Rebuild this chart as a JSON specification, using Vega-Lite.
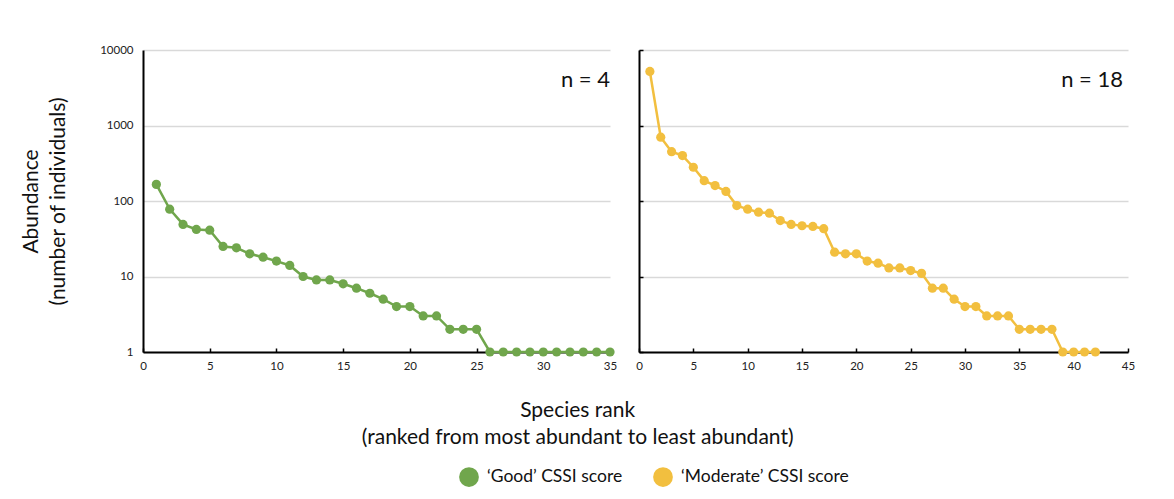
{
  "$schema": "https://vega.github.io/schema/vega-lite/v6.json",
  "padding": {"left": 20, "top": 44, "right": 5, "bottom": 5},
  "background": "white",
  "config": {
    "font": "Lato",
    "view": {"stroke": null},
    "axis": {"labelFont": "Lato", "labelFontSize": 11.5, "labelColor": "#222", "titleFont": "Lato", "titleFontWeight": "normal", "titleColor": "#111"}
  },
  "datasets": {
    "ranks": [
      {"group": "‘Good’ CSSI score", "rank": 1, "abundance": 166},
      {"group": "‘Good’ CSSI score", "rank": 2, "abundance": 78},
      {"group": "‘Good’ CSSI score", "rank": 3, "abundance": 49},
      {"group": "‘Good’ CSSI score", "rank": 4, "abundance": 42},
      {"group": "‘Good’ CSSI score", "rank": 5, "abundance": 41},
      {"group": "‘Good’ CSSI score", "rank": 6, "abundance": 25},
      {"group": "‘Good’ CSSI score", "rank": 7, "abundance": 24},
      {"group": "‘Good’ CSSI score", "rank": 8, "abundance": 20},
      {"group": "‘Good’ CSSI score", "rank": 9, "abundance": 18},
      {"group": "‘Good’ CSSI score", "rank": 10, "abundance": 16},
      {"group": "‘Good’ CSSI score", "rank": 11, "abundance": 14},
      {"group": "‘Good’ CSSI score", "rank": 12, "abundance": 10},
      {"group": "‘Good’ CSSI score", "rank": 13, "abundance": 9},
      {"group": "‘Good’ CSSI score", "rank": 14, "abundance": 9},
      {"group": "‘Good’ CSSI score", "rank": 15, "abundance": 8},
      {"group": "‘Good’ CSSI score", "rank": 16, "abundance": 7},
      {"group": "‘Good’ CSSI score", "rank": 17, "abundance": 6},
      {"group": "‘Good’ CSSI score", "rank": 18, "abundance": 5},
      {"group": "‘Good’ CSSI score", "rank": 19, "abundance": 4},
      {"group": "‘Good’ CSSI score", "rank": 20, "abundance": 4},
      {"group": "‘Good’ CSSI score", "rank": 21, "abundance": 3},
      {"group": "‘Good’ CSSI score", "rank": 22, "abundance": 3},
      {"group": "‘Good’ CSSI score", "rank": 23, "abundance": 2},
      {"group": "‘Good’ CSSI score", "rank": 24, "abundance": 2},
      {"group": "‘Good’ CSSI score", "rank": 25, "abundance": 2},
      {"group": "‘Good’ CSSI score", "rank": 26, "abundance": 1},
      {"group": "‘Good’ CSSI score", "rank": 27, "abundance": 1},
      {"group": "‘Good’ CSSI score", "rank": 28, "abundance": 1},
      {"group": "‘Good’ CSSI score", "rank": 29, "abundance": 1},
      {"group": "‘Good’ CSSI score", "rank": 30, "abundance": 1},
      {"group": "‘Good’ CSSI score", "rank": 31, "abundance": 1},
      {"group": "‘Good’ CSSI score", "rank": 32, "abundance": 1},
      {"group": "‘Good’ CSSI score", "rank": 33, "abundance": 1},
      {"group": "‘Good’ CSSI score", "rank": 34, "abundance": 1},
      {"group": "‘Good’ CSSI score", "rank": 35, "abundance": 1},
      {"group": "‘Moderate’ CSSI score", "rank": 1, "abundance": 5200},
      {"group": "‘Moderate’ CSSI score", "rank": 2, "abundance": 700},
      {"group": "‘Moderate’ CSSI score", "rank": 3, "abundance": 450},
      {"group": "‘Moderate’ CSSI score", "rank": 4, "abundance": 400},
      {"group": "‘Moderate’ CSSI score", "rank": 5, "abundance": 280},
      {"group": "‘Moderate’ CSSI score", "rank": 6, "abundance": 186},
      {"group": "‘Moderate’ CSSI score", "rank": 7, "abundance": 160},
      {"group": "‘Moderate’ CSSI score", "rank": 8, "abundance": 134},
      {"group": "‘Moderate’ CSSI score", "rank": 9, "abundance": 87},
      {"group": "‘Moderate’ CSSI score", "rank": 10, "abundance": 78},
      {"group": "‘Moderate’ CSSI score", "rank": 11, "abundance": 71},
      {"group": "‘Moderate’ CSSI score", "rank": 12, "abundance": 69},
      {"group": "‘Moderate’ CSSI score", "rank": 13, "abundance": 55},
      {"group": "‘Moderate’ CSSI score", "rank": 14, "abundance": 49},
      {"group": "‘Moderate’ CSSI score", "rank": 15, "abundance": 47},
      {"group": "‘Moderate’ CSSI score", "rank": 16, "abundance": 46},
      {"group": "‘Moderate’ CSSI score", "rank": 17, "abundance": 43},
      {"group": "‘Moderate’ CSSI score", "rank": 18, "abundance": 21},
      {"group": "‘Moderate’ CSSI score", "rank": 19, "abundance": 20},
      {"group": "‘Moderate’ CSSI score", "rank": 20, "abundance": 20},
      {"group": "‘Moderate’ CSSI score", "rank": 21, "abundance": 16},
      {"group": "‘Moderate’ CSSI score", "rank": 22, "abundance": 15},
      {"group": "‘Moderate’ CSSI score", "rank": 23, "abundance": 13},
      {"group": "‘Moderate’ CSSI score", "rank": 24, "abundance": 13},
      {"group": "‘Moderate’ CSSI score", "rank": 25, "abundance": 12},
      {"group": "‘Moderate’ CSSI score", "rank": 26, "abundance": 11},
      {"group": "‘Moderate’ CSSI score", "rank": 27, "abundance": 7},
      {"group": "‘Moderate’ CSSI score", "rank": 28, "abundance": 7},
      {"group": "‘Moderate’ CSSI score", "rank": 29, "abundance": 5},
      {"group": "‘Moderate’ CSSI score", "rank": 30, "abundance": 4},
      {"group": "‘Moderate’ CSSI score", "rank": 31, "abundance": 4},
      {"group": "‘Moderate’ CSSI score", "rank": 32, "abundance": 3},
      {"group": "‘Moderate’ CSSI score", "rank": 33, "abundance": 3},
      {"group": "‘Moderate’ CSSI score", "rank": 34, "abundance": 3},
      {"group": "‘Moderate’ CSSI score", "rank": 35, "abundance": 2},
      {"group": "‘Moderate’ CSSI score", "rank": 36, "abundance": 2},
      {"group": "‘Moderate’ CSSI score", "rank": 37, "abundance": 2},
      {"group": "‘Moderate’ CSSI score", "rank": 38, "abundance": 2},
      {"group": "‘Moderate’ CSSI score", "rank": 39, "abundance": 1},
      {"group": "‘Moderate’ CSSI score", "rank": 40, "abundance": 1},
      {"group": "‘Moderate’ CSSI score", "rank": 41, "abundance": 1},
      {"group": "‘Moderate’ CSSI score", "rank": 42, "abundance": 1}
    ]
  },
  "vconcat": [
    {
      "title": {
        "text": ["Species rank", "(ranked from most abundant to least abundant)"],
        "orient": "bottom",
        "anchor": "middle",
        "font": "Lato",
        "fontSize": 21,
        "fontWeight": "normal",
        "color": "#111",
        "lineHeight": 27,
        "offset": 28
      },
      "spacing": 18,
      "hconcat": [
        {
          "width": 467,
          "height": 302,
          "layer": [
            {
              "data": {"name": "ranks"},
              "transform": [{"filter": "datum.group == '‘Good’ CSSI score'"}],
              "mark": {"type": "line", "strokeWidth": 2.5},
              "encoding": {
                "x": {"field": "rank", "type": "quantitative", "scale": {"domain": [0, 35], "nice": false, "zero": true},
                  "axis": {"title": null, "values": [0, 5, 10, 15, 20, 25, 30, 35], "grid": false, "domainColor": "#000", "domainWidth": 2, "tickColor": "#000", "tickSize": -4, "tickWidth": 1.5, "labelPadding": 12, "labelFlush": false}},
                "y": {"field": "abundance", "type": "quantitative", "scale": {"type": "log", "domain": [1, 10000], "nice": false},
                  "axis": {"title": ["Abundance", "(number of individuals)"], "titleFontSize": 21, "titleLineHeight": 27, "titlePadding": 31, "values": [1, 10, 100, 1000, 10000], "format": "d", "grid": true, "gridColor": "#D9D9D9", "gridWidth": 1.5, "domainColor": "#000", "domainWidth": 2, "ticks": false, "labelPadding": 10}},
                "color": {"field": "group", "type": "nominal",
                  "scale": {"domain": ["‘Good’ CSSI score", "‘Moderate’ CSSI score"], "range": ["#70A64C", "#F2BF3F"]},
                  "legend": {"orient": "none", "legendX": 316, "legendY": 417, "direction": "horizontal", "title": null, "symbolType": "circle", "symbolSize": 390, "symbolStrokeWidth": 0, "labelFont": "Lato", "labelFontSize": 17.5, "labelColor": "#111", "labelOffset": 8, "columnPadding": 30, "padding": 0, "labelLimit": 300}}
              }
            },
            {
              "data": {"name": "ranks"},
              "transform": [{"filter": "datum.group == '‘Good’ CSSI score'"}],
              "mark": {"type": "point", "filled": true, "size": 85, "opacity": 1},
              "encoding": {
                "x": {"field": "rank", "type": "quantitative"},
                "y": {"field": "abundance", "type": "quantitative"},
                "color": {"field": "group", "type": "nominal"}
              }
            },
            {
              "data": {"values": [{"label": "n = 4"}]},
              "mark": {"type": "text", "align": "right", "baseline": "middle", "font": "Lato", "fontSize": 22, "color": "#111"},
              "encoding": {
                "x": {"value": "width"},
                "y": {"datum": 4000, "type": "quantitative"},
                "text": {"field": "label"}
              }
            }
          ]
        },
        {
          "width": 489,
          "height": 302,
          "layer": [
            {
              "data": {"name": "ranks"},
              "transform": [{"filter": "datum.group == '‘Moderate’ CSSI score'"}],
              "mark": {"type": "line", "strokeWidth": 2.5},
              "encoding": {
                "x": {"field": "rank", "type": "quantitative", "scale": {"domain": [0, 45], "nice": false, "zero": true},
                  "axis": {"title": null, "values": [0, 5, 10, 15, 20, 25, 30, 35, 40, 45], "grid": false, "domainColor": "#000", "domainWidth": 2, "tickColor": "#000", "tickSize": -4, "tickWidth": 1.5, "labelPadding": 12, "labelFlush": false}},
                "y": {"field": "abundance", "type": "quantitative", "scale": {"type": "log", "domain": [1, 10000], "nice": false},
                  "axis": {"title": null, "values": [1, 10, 100, 1000, 10000], "labels": false, "grid": true, "gridColor": "#D9D9D9", "gridWidth": 1.5, "domainColor": "#000", "domainWidth": 2, "ticks": true, "tickColor": "#000", "tickSize": -4, "tickWidth": 1.5}},
                "color": {"field": "group", "type": "nominal"}
              }
            },
            {
              "data": {"name": "ranks"},
              "transform": [{"filter": "datum.group == '‘Moderate’ CSSI score'"}],
              "mark": {"type": "point", "filled": true, "size": 85, "opacity": 1},
              "encoding": {
                "x": {"field": "rank", "type": "quantitative"},
                "y": {"field": "abundance", "type": "quantitative"},
                "color": {"field": "group", "type": "nominal"}
              }
            },
            {
              "data": {"values": [{"label": "n = 18"}]},
              "mark": {"type": "text", "align": "right", "baseline": "middle", "font": "Lato", "fontSize": 22, "color": "#111", "dx": -5},
              "encoding": {
                "x": {"value": "width"},
                "y": {"datum": 4000, "type": "quantitative"},
                "text": {"field": "label"}
              }
            }
          ]
        }
      ]
    }
  ]
}
